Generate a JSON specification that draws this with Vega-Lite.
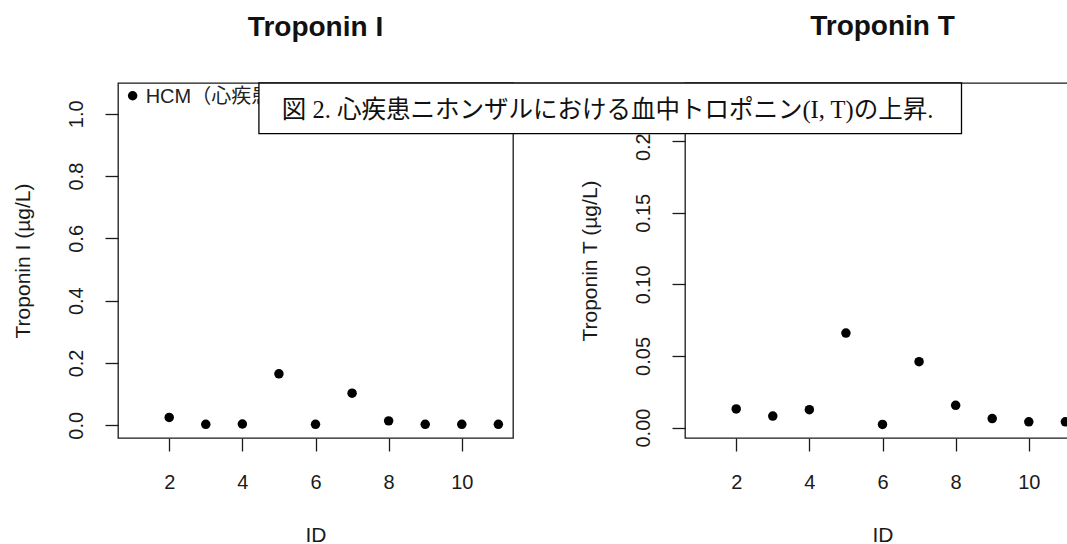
{
  "$schema": "https://vega.github.io/schema/vega-lite/v6.json",
  "background": "white",
  "padding": {"left": 11, "top": 12, "right": 0, "bottom": 0},
  "spacing": 172,
  "bounds": "flush",
  "config": {
    "view": {"stroke": "#1a1a1a", "strokeWidth": 1.3},
    "axis": {
      "grid": false, "domain": false, "ticks": true, "tickSize": 13, "tickColor": "#1a1a1a", "tickWidth": 1.3,
      "labelFont": "Liberation Sans", "labelFontSize": 20, "labelColor": "#1a1a1a",
      "titleFont": "Liberation Sans", "titleFontSize": 21, "titleFontWeight": "normal", "titleColor": "#1a1a1a",
      "zindex": 0
    },
    "axisX": {"labelPadding": 21, "titlePadding": 32},
    "axisY": {"labelAngle": 270, "labelAlign": "center", "labelBaseline": "alphabetic", "labelPadding": 23, "titleAngle": 270, "titleBaseline": "alphabetic", "titlePadding": 37},
    "title": {"font": "Liberation Sans", "fontSize": 28, "fontWeight": "bold", "color": "#111111", "baseline": "alphabetic", "offset": 41, "frame": "group", "anchor": "middle"}
  },
  "datasets": {
    "troponin": [
      {"ID": 1, "TnI": 1.058, "TnT": 0.231},
      {"ID": 2, "TnI": 0.025, "TnT": 0.013},
      {"ID": 3, "TnI": 0.003, "TnT": 0.008},
      {"ID": 4, "TnI": 0.004, "TnT": 0.0125},
      {"ID": 5, "TnI": 0.165, "TnT": 0.066},
      {"ID": 6, "TnI": 0.003, "TnT": 0.0022},
      {"ID": 7, "TnI": 0.103, "TnT": 0.046},
      {"ID": 8, "TnI": 0.014, "TnT": 0.0155},
      {"ID": 9, "TnI": 0.003, "TnT": 0.0063},
      {"ID": 10, "TnI": 0.003, "TnT": 0.004},
      {"ID": 11, "TnI": 0.003, "TnT": 0.004}
    ],
    "hcm": [
      {"ID": 1, "TnI": 1.058, "label": "HCM（心疾患）"}
    ],
    "caption": [
      {"x1": -11.05, "x2": 8.16, "y1": 0.2052, "y2": 0.2406, "xt": -1.517, "yt": 0.2161, "text": "図 2. 心疾患ニホンザルにおける血中トロポニン(I, T)の上昇."}
    ]
  },
  "hconcat": [
    {
      "width": 395, "height": 355,
      "title": {"text": "Troponin I"},
      "layer": [
        {
          "data": {"name": "troponin"},
          "mark": {"type": "circle", "size": 90, "color": "black", "opacity": 1},
          "encoding": {
            "x": {"field": "ID", "type": "quantitative", "title": "ID",
                  "scale": {"domain": [0.6, 11.4], "nice": false, "zero": false},
                  "axis": {"values": [2, 4, 6, 8, 10]}},
            "y": {"field": "TnI", "type": "quantitative", "title": "Troponin I (µg/L)",
                  "scale": {"domain": [-0.041, 1.099], "nice": false, "zero": false},
                  "axis": {"values": [0, 0.2, 0.4, 0.6, 0.8, 1.0], "format": ".1f"}}
          }
        },
        {
          "data": {"name": "hcm"},
          "mark": {"type": "text", "align": "left", "baseline": "middle", "dx": 13, "dy": 1, "fontSize": 20, "font": "Liberation Sans, Noto Sans CJK JP", "color": "#222222"},
          "encoding": {
            "x": {"field": "ID", "type": "quantitative", "title": "ID", "scale": {"domain": [0.6, 11.4], "nice": false, "zero": false}},
            "y": {"field": "TnI", "type": "quantitative", "title": "Troponin I (µg/L)", "scale": {"domain": [-0.041, 1.099], "nice": false, "zero": false}},
            "text": {"field": "label"}
          }
        }
      ]
    },
    {
      "width": 395, "height": 355,
      "title": {"text": "Troponin T"},
      "layer": [
        {
          "data": {"name": "troponin"},
          "mark": {"type": "circle", "size": 90, "color": "black", "opacity": 1},
          "encoding": {
            "x": {"field": "ID", "type": "quantitative", "title": "ID",
                  "scale": {"domain": [0.6, 11.4], "nice": false, "zero": false},
                  "axis": {"values": [2, 4, 6, 8, 10]}},
            "y": {"field": "TnT", "type": "quantitative", "title": "Troponin T (µg/L)",
                  "scale": {"domain": [-0.0073, 0.2406], "nice": false, "zero": false},
                  "axis": {"values": [0, 0.05, 0.1, 0.15, 0.2], "format": ".2f"}}
          }
        },
        {
          "data": {"name": "caption"},
          "mark": {"type": "rect", "fill": "white", "stroke": "black", "strokeWidth": 1.3},
          "encoding": {
            "x": {"field": "x1", "type": "quantitative", "title": "ID", "scale": {"domain": [0.6, 11.4], "nice": false, "zero": false}},
            "x2": {"field": "x2"},
            "y": {"field": "y1", "type": "quantitative", "title": "Troponin T (µg/L)", "scale": {"domain": [-0.0073, 0.2406], "nice": false, "zero": false}},
            "y2": {"field": "y2"}
          }
        },
        {
          "data": {"name": "caption"},
          "mark": {"type": "text", "align": "center", "baseline": "alphabetic", "fontSize": 24.5, "font": "Liberation Serif, Noto Sans CJK JP", "color": "#111111"},
          "encoding": {
            "x": {"field": "xt", "type": "quantitative", "title": "ID", "scale": {"domain": [0.6, 11.4], "nice": false, "zero": false}},
            "y": {"field": "yt", "type": "quantitative", "title": "Troponin T (µg/L)", "scale": {"domain": [-0.0073, 0.2406], "nice": false, "zero": false}},
            "text": {"field": "text"}
          }
        }
      ]
    }
  ]
}
